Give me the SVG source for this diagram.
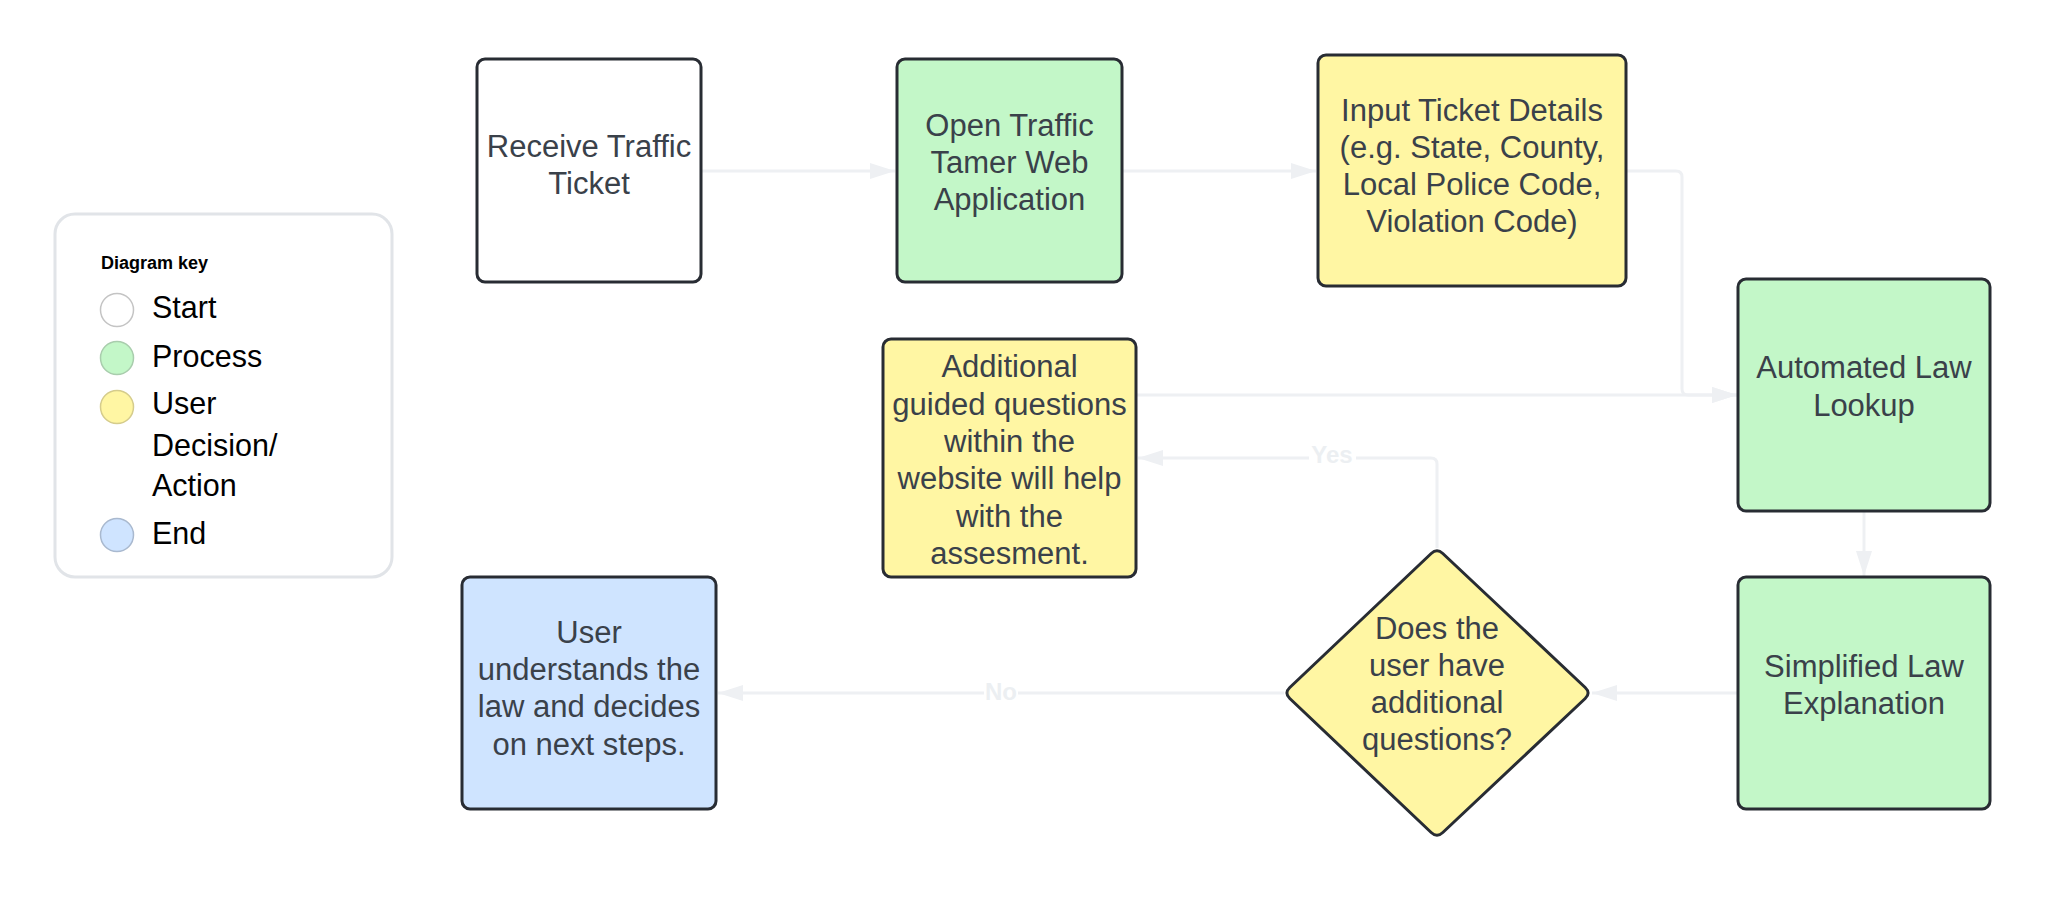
<svg xmlns="http://www.w3.org/2000/svg" width="2048" height="898" viewBox="0 0 2048 898">
<defs>
<marker id="arr" markerUnits="userSpaceOnUse" markerWidth="26" markerHeight="18" refX="25" refY="8" orient="auto">
<path d="M0,0 L25,8 L0,16 Z" fill="#eef0f3"/>
</marker>
<style>
.node{stroke:#282c33;stroke-width:3}
.t{font-family:"Liberation Sans",Arial,sans-serif;font-size:31px;fill:#3a414a;text-anchor:middle}
.conn{fill:none;stroke:#eef0f3;stroke-width:3}
.lbl{font-family:"Liberation Sans",Arial,sans-serif;font-size:24px;font-weight:bold;fill:#eceff2;text-anchor:middle}
.key{font-family:"Liberation Sans",Arial,sans-serif;font-size:30.5px;fill:#000}
</style>
</defs>
<rect width="2048" height="898" fill="#fff"/>

<g id="legend">
<rect x="55" y="214" width="337" height="363" rx="20" fill="#fff" stroke="#e1e4e8" stroke-width="3"/>
<text x="101" y="269" font-family="Liberation Sans,Arial,sans-serif" font-size="18" font-weight="bold" fill="#000">Diagram key</text>
<circle cx="117" cy="310" r="16.5" fill="#fff" stroke="#c4c4c4" stroke-width="1.5"/>
<circle cx="117" cy="358" r="16.5" fill="#c3f7c8" stroke="#a9cdad" stroke-width="1.5"/>
<circle cx="117" cy="407" r="16.5" fill="#fff6a3" stroke="#d5cc8c" stroke-width="1.5"/>
<circle cx="117" cy="535" r="16.5" fill="#cfe4ff" stroke="#a9b9cf" stroke-width="1.5"/>
<text class="key" x="152" y="318">Start</text>
<text class="key" x="152" y="367">Process</text>
<text class="key" x="152" y="414">User</text>
<text class="key" x="152" y="456">Decision/</text>
<text class="key" x="152" y="496">Action</text>
<text class="key" x="152" y="544">End</text>
</g>

<g id="connectors">
<path class="conn" d="M701 171 H895" marker-end="url(#arr)"/>
<path class="conn" d="M1122 171 H1316" marker-end="url(#arr)"/>
<path class="conn" d="M1626 171 H1676 Q1682 171 1682 177 V389 Q1682 395 1688 395 H1737" marker-end="url(#arr)"/>
<path class="conn" d="M1136 395 H1737" marker-end="url(#arr)"/>
<path class="conn" d="M1864 511 V576" marker-end="url(#arr)"/>
<path class="conn" d="M1738 693 H1592" marker-end="url(#arr)"/>
<path class="conn" d="M1437 548 V464 Q1437 458 1431 458 H1138" marker-end="url(#arr)"/>
<path class="conn" d="M1284 693 H718" marker-end="url(#arr)"/>
<rect x="1309" y="443" width="47" height="25" fill="#fff"/>
<text class="lbl" x="1332" y="463">Yes</text>
<rect x="984" y="680" width="34" height="25" fill="#fff"/>
<text class="lbl" x="1001" y="700">No</text>
</g>

<g id="receive">
<rect class="node" x="477" y="59" width="224" height="223" rx="8" fill="#fff"/>
<text class="t" x="589" y="157">Receive Traffic</text>
<text class="t" x="589" y="194">Ticket</text>
</g>

<g id="open">
<rect class="node" x="897" y="59" width="225" height="223" rx="8" fill="#c3f7c8"/>
<text class="t" x="1009.5" y="136">Open Traffic</text>
<text class="t" x="1009.5" y="173">Tamer Web</text>
<text class="t" x="1009.5" y="210">Application</text>
</g>

<g id="input">
<rect class="node" x="1318" y="55" width="308" height="231" rx="8" fill="#fff6a3"/>
<text class="t" x="1472" y="121">Input Ticket Details</text>
<text class="t" x="1472" y="158">(e.g. State, County,</text>
<text class="t" x="1472" y="195">Local Police Code,</text>
<text class="t" x="1472" y="232">Violation Code)</text>
</g>

<g id="lookup">
<rect class="node" x="1738" y="279" width="252" height="232" rx="8" fill="#c3f7c8"/>
<text class="t" x="1864" y="378">Automated Law</text>
<text class="t" x="1864" y="416">Lookup</text>
</g>

<g id="simplified">
<rect class="node" x="1738" y="577" width="252" height="232" rx="8" fill="#c3f7c8"/>
<text class="t" x="1864" y="677">Simplified Law</text>
<text class="t" x="1864" y="714">Explanation</text>
</g>

<g id="decision">
<path class="node" d="M1431.2 553.5 Q1437 548 1442.8 553.5 L1585.2 687.5 Q1591 693 1585.2 698.5 L1442.8 832.5 Q1437 838 1431.2 832.5 L1289.8 698.5 Q1284 693 1289.8 687.5 Z" fill="#fff6a3"/>
<text class="t" x="1437" y="639">Does the</text>
<text class="t" x="1437" y="676">user have</text>
<text class="t" x="1437" y="713">additional</text>
<text class="t" x="1437" y="750">questions?</text>
</g>

<g id="guided">
<rect class="node" x="883" y="339" width="253" height="238" rx="8" fill="#fff6a3"/>
<text class="t" x="1009.5" y="377">Additional</text>
<text class="t" x="1009.5" y="415">guided questions</text>
<text class="t" x="1009.5" y="452">within the</text>
<text class="t" x="1009.5" y="489">website will help</text>
<text class="t" x="1009.5" y="527">with the</text>
<text class="t" x="1009.5" y="564">assesment.</text>
</g>

<g id="end">
<rect class="node" x="462" y="577" width="254" height="232" rx="8" fill="#cfe4ff"/>
<text class="t" x="589" y="643">User</text>
<text class="t" x="589" y="680">understands the</text>
<text class="t" x="589" y="717">law and decides</text>
<text class="t" x="589" y="755">on next steps.</text>
</g>
</svg>
